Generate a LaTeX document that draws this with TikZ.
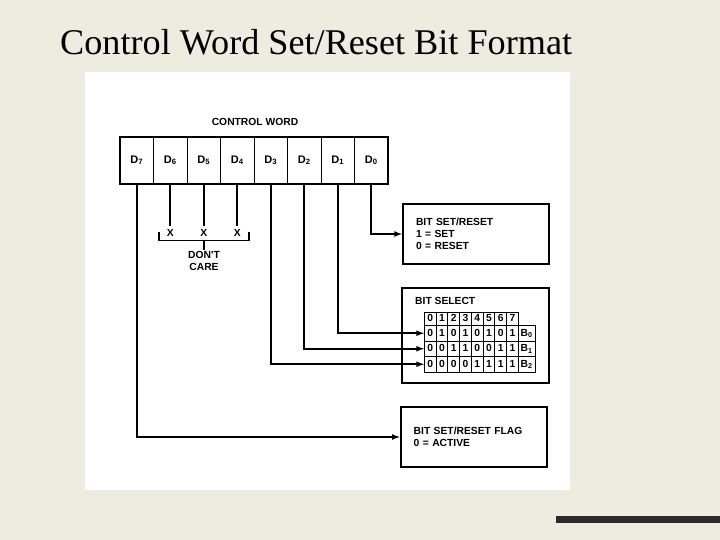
\documentclass[tikz,border=0pt]{standalone}
\usepackage{fontspec}
\setmainfont{Liberation Serif}
\newfontfamily\diagfont{Liberation Sans}
\usetikzlibrary{calc}

\definecolor{slidebg}{RGB}{236,236,224}
\definecolor{barcol}{RGB}{43,43,43}
\tikzset{
  wire/.style={line width=1.6pt},
  cell/.style={draw, line width=0.8pt, minimum width=33.5pt, minimum height=47pt, inner sep=0pt,
    text height=8pt, text depth=2.5pt, font=\diagfont\bfseries\fontsize{11}{13}\selectfont},
  tcell/.style={draw, line width=0.7pt, minimum width=11.75pt, inner sep=0pt,
    text height=7pt, text depth=1pt},
  infobox/.style={draw, line width=2.1pt, minimum width=146pt, minimum height=60pt,
    inner xsep=13pt, text width=120pt, align=left}
}

\begin{document}
\begin{tikzpicture}[x=1pt,y=-1pt,font=\diagfont\bfseries\fontsize{10.3}{11.7}\selectfont]
  \useasboundingbox (0,0) rectangle (720,540);
  \path[fill=slidebg] (0,0) rectangle (720,540);
  \path[fill=white] (85,72) rectangle (570,490);
  \path[fill=barcol] (556,516) rectangle (720,523);
  \node[anchor=base west, inner sep=0pt, font=\rmfamily\mdseries\fontsize{36.2}{40}\selectfont] (title) at (60,55) {Control Word Set/Reset Bit Format};

  % control word
  \foreach \i [count=\k from 0] in {7,...,0}
    \node[cell] (d\i) at (136.75+33.5*\k,160.5) {D\textsubscript{\i}};
  \draw[line width=2.1pt] (d7.north west) rectangle (d0.south east);
  \node (cw) at (255,122) {CONTROL WORD};

  % don't care bits
  \foreach \i in {6,5,4} {
    \node[inner xsep=1pt, inner ysep=4pt] (x\i) at ($(d\i.south)+(0,49)$) {X};
    \draw[wire] (d\i.south) -- (x\i.north);
  }
  \draw[line width=1.2pt] (159,232) -- (159,240.7) -- (249,240.7) -- (249,232);
  \coordinate (brk) at (204,240.7);
  \node[align=center, inner sep=1pt] (care) at (204,261) {DON'T\\CARE};
  \draw[line width=1.2pt] (brk) -- (care.north);

  % boxes
  \node[infobox] (setbox) at (476,234) {BIT SET/RESET\\1 = SET\\0 = RESET};
  \node[infobox] (flagbox) at (473.7,437) {BIT SET/RESET FLAG\\0 = ACTIVE};
  \node[draw, line width=2.1pt, minimum width=147pt, minimum height=95pt] (selbox) at (475.5,335.5) {};
  \node[anchor=west, inner sep=0pt] (seltitle) at (415,300.7) {BIT SELECT};

  % bit select table
  \foreach \c in {0,...,7}
    \node[tcell, minimum height=13.5pt] (h\c) at (430.2+11.75*\c,318.7) {\c};
  \foreach \r/\y/\bits in {0/333.25/{0,1,0,1,0,1,0,1}, 1/348.75/{0,0,1,1,0,0,1,1}, 2/364.25/{0,0,0,0,1,1,1,1}} {
    \foreach \b [count=\c from 0] in \bits
      \node[tcell, minimum height=15.5pt] (b\r-\c) at (430.2+11.75*\c,\y) {\b};
    \node[tcell, minimum height=15.5pt, minimum width=16.7pt] (b\r-8) at (526.7,\y) {B\textsubscript{\r}};
  }

  \draw[wire,-latex] (d0.south) |- (setbox.west);
  \draw[wire,-latex] (d1.south) |- (b0-0.west);
  \draw[wire,-latex] (d2.south) |- (b1-0.west);
  \draw[wire,-latex] (d3.south) |- (b2-0.west);
  \draw[wire,-latex] (d7.south) |- (flagbox.west);
\end{tikzpicture}
\end{document}
